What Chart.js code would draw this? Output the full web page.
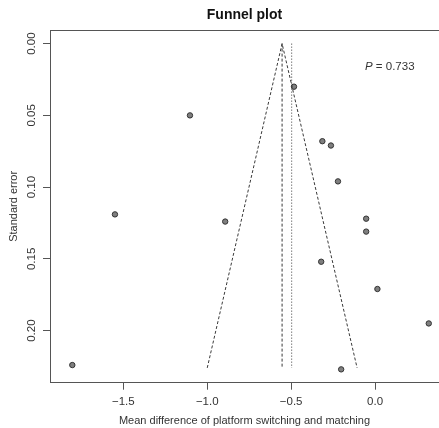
<!doctype html>
<html lang="en">
<head>
<meta charset="utf-8">
<title>Funnel plot</title>
<script src="https://cdn.jsdelivr.net/npm/chart.js"></script>
<style>
  html,body{margin:0;padding:0;background:#fff;overflow:hidden}
  canvas{display:block}
</style>
</head>
<body>
<canvas id="chart" width="439" height="428"></canvas>

<script>
/* ---------- data ---------------------------------------------------- */
const meanDiff = [-1.103, -1.550, -1.804, -0.483, -0.314, -0.263, -0.221, -0.053, -0.053, -0.893, -0.321, 0.014, 0.320, -0.202];
const stdErr   = [ 0.050,  0.119,  0.224,  0.030,  0.068,  0.071,  0.096,  0.122,  0.131,  0.124,  0.152, 0.171, 0.195,  0.227];

// funnel: apex at pooled estimate, legs at the bottom
const funnelX  = [-1.000, -0.554, -0.107];
const funnelY  = [ 0.226,  0.000,  0.226];
const pooledX  = [-0.554, -0.554];
const pooledY  = [ 0.000,  0.226];
const refX     = [-0.497, -0.497];
const refY     = [ 0.000,  0.226];

const xTicks   = [-1.5, -1.0, -0.5, 0.0];
const xLabels  = ['\u22121.5', '\u22121.0', '\u22120.5', '0.0'];
const yTicks   = [0.00, 0.05, 0.10, 0.15, 0.20];
const yLabels  = ['0.00', '0.05', '0.10', '0.15', '0.20'];

const pValue   = '0.733';

/* ---------- chart ---------------------------------------------------- */
Chart.defaults.font.family = '"Liberation Sans", Arial, Helvetica, sans-serif';
Chart.defaults.color = '#333';

const pts = (xs, ys) => xs.map((x, i) => ({x, y: ys[i]}));
const AX = '#555';

// top edge of the frame (right edge is cut off in the original) + P annotation
const extras = {
  id: 'extras',
  afterDraw(c) {
    const {ctx, chartArea: a, scales: {x, y}} = c;
    ctx.save();
    ctx.strokeStyle = AX; ctx.lineWidth = 1;
    ctx.beginPath();
    ctx.moveTo(a.left, a.top + 0.5); ctx.lineTo(a.right, a.top + 0.5);
    ctx.stroke();
    const px = x.getPixelForValue(-0.06), py = y.getPixelForValue(0.016);
    ctx.fillStyle = '#333'; ctx.textBaseline = 'middle'; ctx.textAlign = 'left';
    ctx.font = 'italic 11.5px "Liberation Sans", Arial, sans-serif';
    ctx.fillText('P', px, py);
    const w = ctx.measureText('P').width;
    ctx.font = '11.5px "Liberation Sans", Arial, sans-serif';
    ctx.fillText(' = ' + pValue, px + w, py);
    ctx.restore();
  }
};

new Chart(document.getElementById('chart'), {
  type: 'scatter',
  data: {datasets: [
    {type: 'line', data: pts(funnelX, funnelY), borderColor: '#3a3a3a', borderWidth: 1,
     borderDash: [3, 2], pointRadius: 0, fill: false, tension: 0},
    {type: 'line', data: pts(pooledX, pooledY), borderColor: '#3a3a3a', borderWidth: 1,
     borderDash: [3, 2], pointRadius: 0, fill: false},
    {type: 'line', data: pts(refX, refY), borderColor: '#3a3a3a', borderWidth: 1,
     borderDash: [1, 2], pointRadius: 0, fill: false},
    {data: pts(meanDiff, stdErr), pointRadius: 2.7, backgroundColor: '#7f7f7f',
     borderColor: '#333', borderWidth: 1}
  ]},
  options: {
    responsive: false, animation: false,
    layout: {padding: 0, autoPadding: false},
    plugins: {
      legend: {display: false}, tooltip: {enabled: false},
      title: {display: true, fullSize: false, text: 'Funnel plot', color: '#111',
              font: {size: 14, weight: 'bold', lineHeight: 1.2}, padding: {top: 7, bottom: 6.2}}
    },
    scales: {
      x: {
        type: 'linear', min: -1.937, max: 0.381,
        afterFit: s => { s.height = 45.3; s.paddingLeft = 0; s.paddingRight = 0; },
        afterBuildTicks: s => { s.ticks = xTicks.map(v => ({value: v})); },
        ticks: {callback: v => xLabels[xTicks.indexOf(v)], font: {size: 11.5}, padding: 5,
                maxRotation: 0, autoSkip: false, color: '#333'},
        grid: {drawOnChartArea: false, drawTicks: true, tickLength: 7, color: AX},
        border: {display: true, color: AX},
        title: {display: true, text: 'Mean difference of platform switching and matching',
                font: {size: 11}, padding: 0, color: '#333'}
      },
      y: {
        type: 'linear', reverse: true, min: -0.0095, max: 0.2363,
        afterFit: s => { s.width = 50; },
        afterBuildTicks: s => { s.ticks = yTicks.map(v => ({value: v})); },
        ticks: {callback: v => yLabels[yTicks.indexOf(v)], font: {size: 11.5}, padding: 0,
                minRotation: 90, maxRotation: 90, crossAlign: 'center', autoSkip: false, color: '#333'},
        grid: {drawOnChartArea: false, drawTicks: true, tickLength: 7, color: AX},
        border: {display: true, color: AX},
        title: {display: true, text: 'Standard error', font: {size: 11}, padding: {top: 7, bottom: 0}, color: '#333'}
      }
    }
  },
  plugins: [extras]
});
</script>
</body>
</html>
